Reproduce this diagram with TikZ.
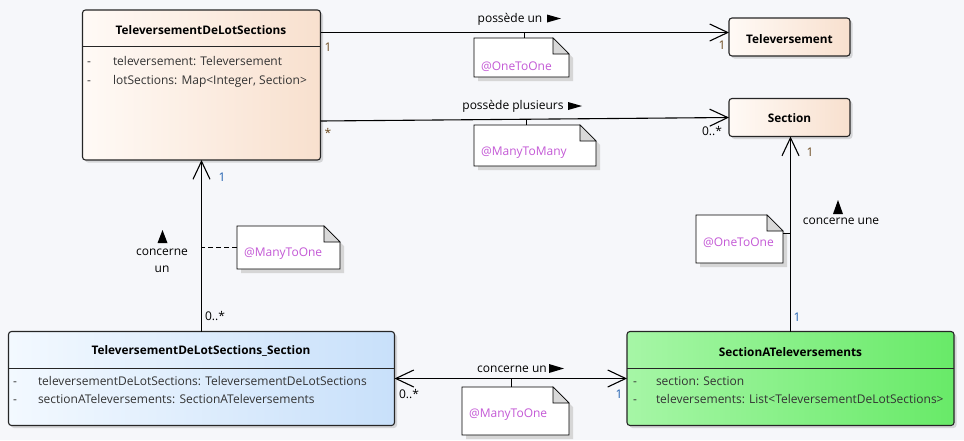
\documentclass[tikz,border=0pt]{standalone}
\usepackage{fontspec}
\setmainfont{Open Sans}
\usetikzlibrary{arrows.meta,shadows,calc,fit}
\definecolor{bg}{HTML}{F6F7FA}
\definecolor{tdlsL}{HTML}{FFFAF6}
\definecolor{tdlsR}{HTML}{F8E0CE}
\definecolor{tdsL}{HTML}{F3F9FF}
\definecolor{tdsR}{HTML}{C8E0FA}
\definecolor{satL}{HTML}{A6F6A6}
\definecolor{satR}{HTML}{68EA68}
\definecolor{notetext}{HTML}{C459D6}
\definecolor{mbrown}{HTML}{6B4A1E}
\definecolor{mblue}{HTML}{1F5FB0}
\definecolor{attrc}{HTML}{333333}
\newcommand\mynote[7]{%
  \begin{scope}[shift={(4,4)}]
    \fill[black!16] (#2,#3) -- (#4-16,#3) -- (#4,#3+16) -- (#4,#5) -- (#2,#5) -- cycle;
  \end{scope}
  \path (#2,#3) coordinate (#1-nw) (#4,#5) coordinate (#1-se);
  \node[fit=(#1-nw)(#1-se)] (#1) {};
  \filldraw[notest] (#2,#3) -- (#4-16,#3) -- (#4,#3+16) -- (#4,#5) -- (#2,#5) -- cycle;
  \filldraw[foldst] (#4-16,#3) -- (#4-16,#3+16) -- (#4,#3+16) -- cycle;
  \node[notelabel, anchor=west] (#1-t) at (#2+7,#6) {#7};
}
\begin{document}
\begin{tikzpicture}[x=1pt,y=-1pt,
  every node/.style={inner sep=0pt, outer sep=0pt},
  font=\fontsize{12}{13}\selectfont,
  cls/.style={draw=black!85, line width=1.1pt, rounded corners=3pt,
    drop shadow={shadow xshift=2.5pt, shadow yshift=-2.5pt, fill=black!40, opacity=0.35}},
  div/.style={draw=black!85, line width=1pt},
  title/.style={font=\fontsize{11.8}{13}\selectfont\bfseries},
  attr/.style={text=attrc, anchor=west, text height=8.5pt, text depth=3pt},
  notest/.style={draw=black, line width=0.9pt, fill=white},
  foldst/.style={draw=black, line width=0.6pt, fill=black!15},
  notelabel/.style={text=notetext},
  assoc/.style={draw=black, line width=1.1pt, -{Straight Barb[length=18pt,width=17pt,line width=1.1pt]}},
  both/.style={draw=black, line width=1.1pt, {Straight Barb[length=18pt,width=17pt,line width=1.1pt]}-{Straight Barb[length=18pt,width=17pt,line width=1.1pt]}},
  tick/.style={draw=black, line width=0.9pt},
  mb/.style={text=mbrown},
  mu/.style={text=mblue},
  mk/.style={text=black},
  lbl/.style={text=black},
  tri/.style={fill=black}
]
\useasboundingbox[fill=bg] (0,0) rectangle (964,440);

% classes
\node[cls, left color=tdlsL, right color=tdlsR, minimum width=238pt, minimum height=150pt] (tdls) at (201.5,85) {};
\draw[div] ([yshift=-36pt]tdls.north west) -- ([yshift=-36pt]tdls.north east);
\node[title] (tdlsT) at (201,30) {TeleversementDeLotSections};
\node[attr] (a1d) at (87,62.5) {-};
\node[attr] (a1) at (113,62.5) {televersement: Televersement};
\node[attr] (a2d) at (87,81.5) {-};
\node[attr] (a2) at (113,81.5) {lotSections: Map<Integer, Section>};

\node[cls, left color=tdlsL, right color=tdlsR, minimum width=121pt, minimum height=38pt] (tv) at (789.5,37) {};
\node[title] (tvT) at (789.5,39) {Televersement};

\node[cls, left color=tdlsL, right color=tdlsR, minimum width=121pt, minimum height=38pt] (sec) at (789.5,117.5) {};
\node[title] (secT) at (789.5,118) {Section};

\node[cls, left color=tdsL, right color=tdsR, minimum width=386pt, minimum height=94pt] (tds) at (201.5,378.5) {};
\draw[div] ([yshift=-37pt]tds.north west) -- ([yshift=-37pt]tds.north east);
\node[title] (tdsT) at (201,351) {TeleversementDeLotSections\_Section};
\node[attr] (b1d) at (13,382.5) {-};
\node[attr] (b1) at (38,382.5) {televersementDeLotSections: TeleversementDeLotSections};
\node[attr] (b2d) at (13,401) {-};
\node[attr] (b2) at (38,401) {sectionATeleversements: SectionATeleversements};

\node[cls, left color=satL, right color=satR, minimum width=327pt, minimum height=94pt] (sat) at (790.5,378.5) {};
\draw[div] ([yshift=-37pt]sat.north west) -- ([yshift=-37pt]sat.north east);
\node[title] (satT) at (790.5,352) {SectionATeleversements};
\node[attr] (c1d) at (633,382.5) {-};
\node[attr] (c1) at (656,382.5) {section: Section};
\node[attr] (c2d) at (633,401) {-};
\node[attr] (c2) at (656,401) {televersements: List<TeleversementDeLotSections>};

% connectors
\coordinate (p1) at ([yshift=4.5pt]tv.west);
\draw[assoc] (tdls.east |- p1) -- (p1);
\coordinate (p2) at ([yshift=-36pt]tdls.east);
\draw[assoc] (p2) -- (sec.west);
\draw[assoc] (tds.north) -- (tdls.south);
\draw[assoc] (sat.north) -- (sat.north |- sec.south);
\draw[both] (tds.east) -- (sat.west);

% notes
\mynote{n1}{474}{38}{569}{77}{67}{@OneToOne}
\mynote{n2}{474}{125}{596}{166}{153}{@ManyToMany}
\mynote{n3}{237}{226}{340}{269}{254}{@ManyToOne}
\mynote{n4}{696}{215}{783}{263}{243}{@OneToOne}
\mynote{n5}{462}{387}{569}{435}{415}{@ManyToOne}

% note links
\draw[tick] ([xshift=3pt]n1.north) -- ([xshift=3pt]n1.north |- p1);
\draw[tick] ([xshift=-9pt]n2.north) -- ++(0,-6.5);
\draw[tick, dashed, dash pattern=on 5pt off 3pt] (n3.west) -- (n3.west -| tds.north);
\draw[tick] ([yshift=6pt]n4.east) -- ([yshift=6pt]n4.east -| sat.north);
\draw[tick] ([xshift=-4pt]n5.north) -- ([xshift=-4pt]n5.north |- tds.east);

% association labels
\node[lbl] (l1) at (510,19) {possède un};
\fill[tri] (547,14.5) -- (561,18.5) -- (547,22.5) -- cycle;
\node[lbl] (l2) at (513,106) {possède plusieurs};
\fill[tri] (568,102) -- (582,106) -- (568,110) -- cycle;
\fill[tri] (157.5,243) -- (162.5,230) -- (167.5,243) -- cycle;
\node[lbl] (l3) at (162,252) {concerne};
\node[lbl] (l3b) at (162,269) {un};
\fill[tri] (833,214) -- (838,200) -- (843,214) -- cycle;
\node[lbl] (l4) at (841,221) {concerne une};
\node[lbl] (l5) at (512,369) {concerne un};
\fill[tri] (549,364) -- (564,368.5) -- (549,373) -- cycle;

% multiplicities
\node[mb] (m1) at (328,47) {1};
\node[mb] (m2) at (722,45) {1};
\node[mb] (m3) at (328,133) {*};
\node[mk] (m4) at (712,131) {0..*};
\node[mu] (m5) at (222,177) {1};
\node[mk] (m6) at (215,316) {0..*};
\node[mb] (m7) at (810,152) {1};
\node[mu] (m8) at (797,317) {1};
\node[mk] (m9) at (409,394) {0..*};
\node[mu] (m10) at (619,394) {1};
\end{tikzpicture}
\end{document}
